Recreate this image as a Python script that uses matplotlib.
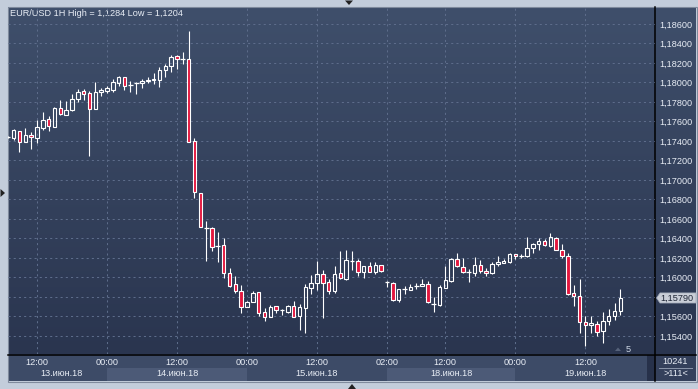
import matplotlib
matplotlib.use('Agg')
import matplotlib.pyplot as plt
import matplotlib.patches as mpatches
import numpy as np
import pandas as pd

plt.rcParams['font.family'] = ['Liberation Sans', 'DejaVu Sans']

W, H = 698, 389
FS = 6.6

# EUR/USD hourly candles (13.06.2018 07:00 .. 19.06.2018 18:00, weekend skipped)
times = list(pd.date_range('2018-06-13 07:00', '2018-06-15 23:00', freq='h')) + \
        list(pd.date_range('2018-06-18 02:00', periods=41, freq='h'))

opens = [1.17438, 1.17428, 1.17499, 1.17387, 1.17458, 1.17428, 1.17536, 1.17622, 1.17546, 1.17735,
         1.17663, 1.17715, 1.17828, 1.17910, 1.17892, 1.17728, 1.17906, 1.17910, 1.17926, 1.17998,
         1.18053, 1.17974, 1.17992, 1.17992, 1.18012, 1.18022, 1.18022, 1.18131, 1.18166, 1.18269,
         1.18238, 1.18238, 1.17397, 1.16864, 1.16511, 1.16505, 1.16326, 1.16330, 1.16043, 1.15930,
         1.15865, 1.15700, 1.15752, 1.15848, 1.15643, 1.15598, 1.15705, 1.15662, 1.15646, 1.15705,
         1.15605, 1.15690, 1.15895, 1.15947, 1.16036, 1.15951, 1.15865, 1.16046, 1.15988, 1.16172,
         1.16166, 1.16056, 1.16115, 1.16059, 1.16125, 1.15951, 1.15944, 1.15766, 1.15879, 1.15869,
         1.15913, 1.15910, 1.15930, 1.15733, 1.15721, 1.15895, 1.15961, 1.16187, 1.16105, 1.16053,
         1.16041, 1.16125, 1.16064, 1.16043, 1.16135, 1.16152, 1.16162, 1.16241, 1.16217, 1.16217,
         1.16299, 1.16340, 1.16371, 1.16320, 1.16402, 1.16279, 1.16217, 1.15838, 1.15807, 1.15540,
         1.15510, 1.15520, 1.15448, 1.15551, 1.15602, 1.15653]
highs = [1.17451, 1.17526, 1.17502, 1.17533, 1.17489, 1.17615, 1.17694, 1.17653, 1.17749, 1.17820,
         1.17810, 1.17882, 1.17930, 1.17930, 1.17910, 1.18005, 1.17943, 1.17964, 1.18036, 1.18070,
         1.18059, 1.18015, 1.18005, 1.18033, 1.18056, 1.18100, 1.18159, 1.18187, 1.18285, 1.18285,
         1.18313, 1.18528, 1.17428, 1.16864, 1.16579, 1.16521, 1.16467, 1.16405, 1.16097, 1.16015,
         1.15923, 1.15762, 1.15858, 1.15854, 1.15684, 1.15715, 1.15711, 1.15680, 1.15718, 1.15759,
         1.15728, 1.15933, 1.16023, 1.16169, 1.16074, 1.15988, 1.16118, 1.16272, 1.16282, 1.16272,
         1.16190, 1.16115, 1.16156, 1.16156, 1.16125, 1.15964, 1.15951, 1.15879, 1.15913, 1.15930,
         1.15944, 1.15985, 1.15967, 1.15800, 1.15920, 1.16118, 1.16200, 1.16251, 1.16197, 1.16084,
         1.16207, 1.16176, 1.16094, 1.16156, 1.16220, 1.16187, 1.16248, 1.16241, 1.16241, 1.16415,
         1.16351, 1.16405, 1.16392, 1.16453, 1.16412, 1.16344, 1.16248, 1.15920, 1.15982, 1.15602,
         1.15602, 1.15554, 1.15643, 1.15674, 1.15735, 1.15879]
lows = [1.17426, 1.17410, 1.17290, 1.17387, 1.17318, 1.17383, 1.17513, 1.17505, 1.17546, 1.17667,
        1.17663, 1.17711, 1.17800, 1.17820, 1.17249, 1.17728, 1.17861, 1.17889, 1.17902, 1.17961,
        1.17926, 1.17899, 1.17882, 1.17947, 1.17992, 1.17988, 1.17957, 1.18059, 1.18111, 1.18138,
        1.18190, 1.17393, 1.16818, 1.16515, 1.16172, 1.16275, 1.16162, 1.15998, 1.15906, 1.15844,
        1.15639, 1.15694, 1.15746, 1.15605, 1.15557, 1.15598, 1.15633, 1.15619, 1.15633, 1.15595,
        1.15462, 1.15434, 1.15834, 1.15872, 1.15588, 1.15828, 1.15844, 1.15982, 1.15974, 1.16077,
        1.16018, 1.15998, 1.16059, 1.16039, 1.16059, 1.15906, 1.15759, 1.15752, 1.15828, 1.15869,
        1.15879, 1.15910, 1.15741, 1.15649, 1.15705, 1.15889, 1.15951, 1.16103, 1.16041, 1.15951,
        1.16015, 1.16049, 1.16012, 1.16033, 1.16115, 1.16146, 1.16152, 1.16187, 1.16197, 1.16210,
        1.16251, 1.16285, 1.16320, 1.16313, 1.16279, 1.16197, 1.15817, 1.15711, 1.15428, 1.15300,
        1.15428, 1.15397, 1.15331, 1.15510, 1.15561, 1.15612]
closes = [1.17438, 1.17513, 1.17387, 1.17461, 1.17438, 1.17540, 1.17612, 1.17551, 1.17735, 1.17674,
          1.17715, 1.17828, 1.17902, 1.17882, 1.17728, 1.17899, 1.17926, 1.17940, 1.18005, 1.18053,
          1.17961, 1.17974, 1.17992, 1.18015, 1.18028, 1.18036, 1.18128, 1.18166, 1.18261, 1.18238,
          1.18238, 1.17393, 1.16874, 1.16515, 1.16511, 1.16316, 1.16326, 1.16043, 1.15916, 1.15865,
          1.15700, 1.15749, 1.15841, 1.15639, 1.15592, 1.15694, 1.15664, 1.15662, 1.15705, 1.15598,
          1.15694, 1.15899, 1.15940, 1.16036, 1.15947, 1.15865, 1.16036, 1.15992, 1.16176, 1.16172,
          1.16053, 1.16115, 1.16059, 1.16128, 1.16070, 1.15951, 1.15766, 1.15879, 1.15879, 1.15902,
          1.15913, 1.15930, 1.15744, 1.15733, 1.15899, 1.15971, 1.16187, 1.16115, 1.16053, 1.16053,
          1.16125, 1.16064, 1.16043, 1.16142, 1.16156, 1.16166, 1.16241, 1.16217, 1.16217, 1.16299,
          1.16340, 1.16371, 1.16330, 1.16412, 1.16279, 1.16217, 1.15828, 1.15807, 1.15540, 1.15510,
          1.15530, 1.15438, 1.15551, 1.15602, 1.15653, 1.15790]

title = 'EUR/USD 1H High = 1,1284 Low = 1,1204'
month_names = {6: 'июн'}
price_ticks = np.arange(1.154, 1.18601, 0.002)

# colours
frame_c = '#c3cddb'
top_c = np.array([63, 79, 107]) / 255
bot_c = np.array([42, 53, 79]) / 255
red_c = '#e3173e'
txt_c = '#e8edf5'
grid_c = '#5d6c8a'

fig = plt.figure(figsize=(W / 100, H / 100), dpi=100)
fig.patch.set_facecolor(frame_c)


def px_rect(x0, y0, x1, y1):
    return [x0 / W, 1 - y1 / H, (x1 - x0) / W, (y1 - y0) / H]


# background layer in pixel coordinates
back = fig.add_axes([0, 0, 1, 1])
grad = np.linspace(0, 1, 256)[:, None, None]
img = top_c + (bot_c - top_c) * grad
back.imshow(img, extent=(8, 696, 354, 7), aspect='auto', interpolation='bilinear')
back.add_patch(mpatches.Rectangle((8, 354), 688, 27, fc='#3d4b67', ec='none'))
back.add_patch(mpatches.Rectangle((655, 354), 41, 27, fc='#34405b', ec='none'))
back.add_patch(mpatches.Rectangle((646.5, 355), 8.5, 26, fc='#27314a', ec='none'))
back.add_patch(mpatches.Rectangle((7.5, 6.5), 689, 375, fc='none', ec='#7f8a9c', lw=0.8))
back.plot([655, 655], [7, 381], color='black', lw=1.1)
back.plot([8, 696], [354.5, 354.5], color='black', lw=1.1)
back.plot([659, 692], [367.5, 367.5], color='#8a95aa', lw=0.7)
back.text(675.5, 361.5, '10241', color=txt_c, fontsize=FS, ha='center', va='center')
back.text(675.5, 373.5, '>111<', color=txt_c, fontsize=FS, ha='center', va='center')
back.text(10, 13.5, title, color=txt_c, fontsize=FS, ha='left', va='center')
back.text(628, 349.5, '5', color='#cfd8e6', fontsize=FS, ha='center', va='center')
back.add_patch(mpatches.Polygon([(615, 351), (621, 351), (618, 347.5)], fc='#56627a', ec='none'))
# frame arrows
back.add_patch(mpatches.Polygon([(0.5, 189), (0.5, 197), (5, 193)], fc='#222222', ec='none'))
back.add_patch(mpatches.Polygon([(345, 0.5), (353, 0.5), (349, 5)], fc='#222222', ec='none'))
back.add_patch(mpatches.Polygon([(348, 389), (356, 389), (352, 384)], fc='#222222', ec='none'))
back.set_xlim(0, W)
back.set_ylim(H, 0)
back.axis('off')

# main chart
ax = fig.add_axes(px_rect(8, 7, 655, 354))
ax.patch.set_alpha(0)
n = len(times)
xs = np.arange(n)
ax.set_xlim(0.03, 110.94)
ax.set_ylim(1.18846 - 0.00010256 * 354, 1.18846 - 0.00010256 * 7)

bw = 0.62
for x, o, h, l, c in zip(xs, opens, highs, lows, closes):
    lo_b, hi_b = min(o, c), max(o, c)
    if abs(c - o) < 0.00002:
        ax.vlines(x, l, h, color='white', lw=0.8, zorder=3)
        ax.hlines(o, x - 0.42, x + 0.42, color='white', lw=0.9, zorder=3)
        continue
    ax.vlines(x, hi_b, h, color='white', lw=0.8, zorder=3)
    ax.vlines(x, l, lo_b, color='white', lw=0.8, zorder=3)
    fc = red_c if c < o else 'none'
    ax.add_patch(mpatches.Rectangle((x - bw / 2, lo_b), bw, hi_b - lo_b,
                                    fc=fc, ec='white', lw=0.8, zorder=4))

# time ticks: 00:00, 12:00 and session start
tick_k = [k for k in range(n) if times[k].hour in (0, 12) or
          (k > 0 and (times[k] - times[k - 1]) > pd.Timedelta(hours=1))]
ax.set_xticks(tick_k)
ax.set_xticklabels([times[k].strftime('%H:%M') for k in tick_k])
ax.set_yticks(price_ticks)
ax.yaxis.set_major_formatter(plt.FuncFormatter(lambda v, p: f'{v:.5f}'.replace('.', ',')))
ax.yaxis.tick_right()
ax.tick_params(axis='y', length=0, pad=3.2, labelsize=FS, labelcolor=txt_c)
ax.tick_params(axis='x', length=0, pad=3.0, labelsize=FS, labelcolor=txt_c)
ax.grid(True, color=grid_c, lw=0.75, linestyle=(0, (2, 3)))
ax.set_axisbelow(True)
for s in ax.spines.values():
    s.set_visible(False)

# day bands and date labels
xt = ax.get_xaxis_transform()
days = sorted(set(t.date() for t in times))
x_right = ax.get_xlim()[1]
for j, d in enumerate(days):
    ks = [k for k in range(n) if times[k].date() == d]
    x0 = ks[0] if times[ks[0]].hour == 0 or ks[0] > 0 and times[ks[0]].hour < 3 else ax.get_xlim()[0]
    x1 = ks[-1] + 1 if j < len(days) - 1 else x_right
    if j + 1 < len(days):
        nxt = [k for k in range(n) if times[k].date() == days[j + 1]][0]
        x1 = nxt
    if j % 2 == 1:
        ax.add_patch(mpatches.Rectangle((x0, -0.0778), x1 - x0, 0.0375, transform=xt,
                                        fc='#4c5a77', ec='none', clip_on=False, zorder=0))
    label = f'{d.day:02d}.{month_names[d.month]}.{d.year % 100:02d}'
    ax.text((x0 + x1) / 2 + (0.7 if j == 0 else 0), -0.057, label, transform=xt, color=txt_c,
            fontsize=FS, ha='center', va='center', clip_on=False)

# last price marker
last = closes[-1]
yt = ax.get_yaxis_transform()
dy = 0.00052
ax.add_patch(mpatches.Polygon([(1.0023, last), (1.0077, last + dy), (1.0634, last + dy),
                               (1.0634, last - dy), (1.0077, last - dy)], closed=True,
                              transform=yt, fc='#c9ced7', ec='#9aa3b2', lw=0.5, clip_on=False, zorder=5))
ax.text(1.0088, last, f'{last:.5f}'.replace('.', ','), transform=yt, color='#1f2636',
        fontsize=FS, ha='left', va='center', clip_on=False, zorder=6)

fig.savefig('out.png', dpi=100, facecolor=fig.get_facecolor())
